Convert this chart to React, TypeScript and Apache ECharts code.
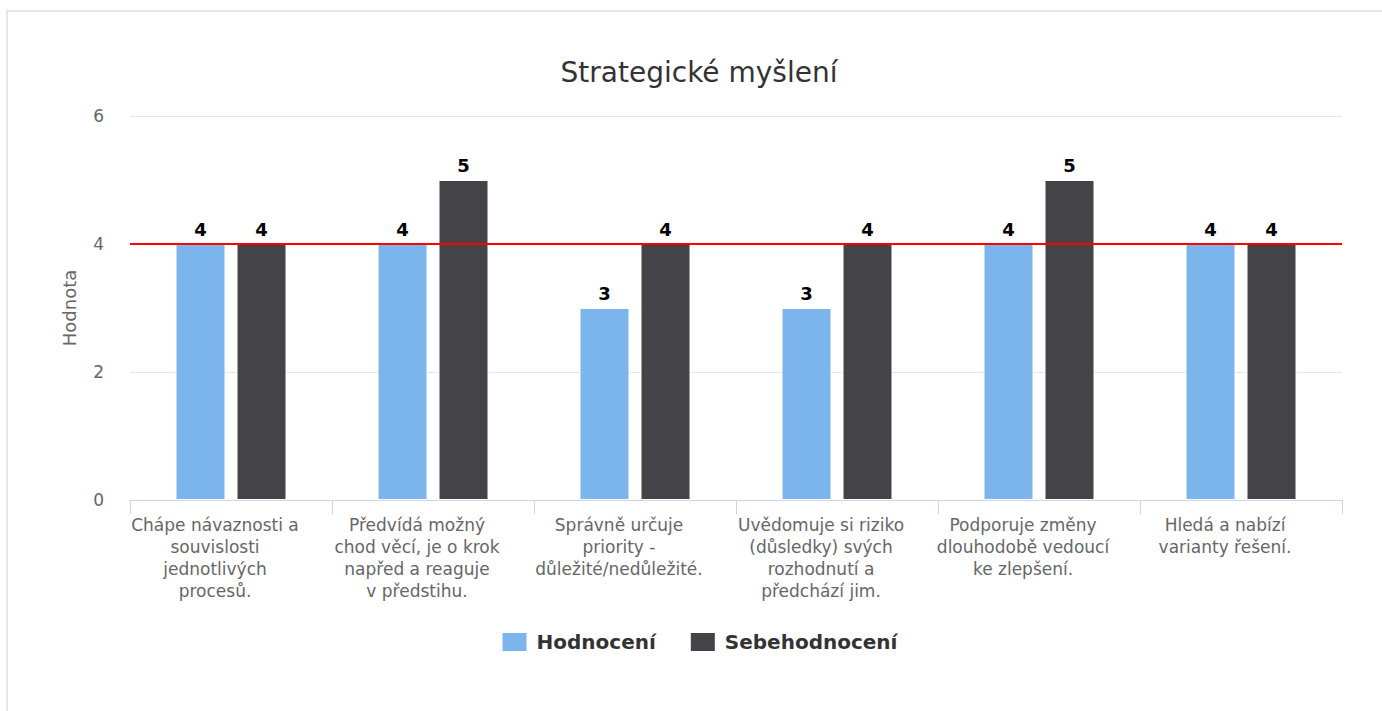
import React, { useEffect, useRef } from "react";
import * as echarts from "echarts";

const categories = [
  "Chápe návaznosti a\nsouvislosti\njednotlivých\nprocesů.",
  "Předvídá možný\nchod věcí, je o krok\nnapřed a reaguje\nv předstihu.",
  "Správně určuje\npriority -\ndůležité/nedůležité.",
  "Uvědomuje si riziko\n(důsledky) svých\nrozhodnutí a\npředchází jim.",
  "Podporuje změny\ndlouhodobě vedoucí\nke zlepšení.",
  "Hledá a nabízí\nvarianty řešení.",
];
const hodnoceni = [4, 4, 3, 3, 4, 4];
const sebehodnoceni = [4, 5, 4, 4, 5, 4];
const seriesNames = ["Hodnocení", "Sebehodnocení"];
const targetLine = 4;
const yMin = 0;
const yMax = 6;
const yInterval = 2;

const FONT = "'DejaVu Sans', Verdana, sans-serif";

export default function App() {
  const ref = useRef<HTMLDivElement>(null);
  useEffect(() => {
    if (!ref.current) return;
    const chart = echarts.init(ref.current, undefined, { renderer: "svg" });
    const labelStyle = {
      show: true,
      position: "top" as const,
      distance: 6,
      color: "#000",
      fontWeight: "bold" as const,
      fontSize: 18,
      fontFamily: FONT,
      textBorderColor: "#fff",
      textBorderWidth: 2,
    };
    chart.setOption({
      animation: false,
      textStyle: { fontFamily: FONT },
      title: {
        text: "Strategické myšlení",
        left: "center",
        top: 46,
        padding: 0,
        textStyle: { fontSize: 28, fontWeight: "normal", color: "#333", fontFamily: FONT },
      },
      grid: { left: 122, right: 48, top: 104, bottom: 212, containLabel: false },
      legend: {
        data: seriesNames,
        left: "center",
        top: 619,
        padding: 0,
        icon: "rect",
        itemWidth: 26,
        itemHeight: 20,
        itemGap: 33,
        textStyle: { fontSize: 20, fontWeight: "bold", color: "#333", fontFamily: FONT, padding: [0, 0, 0, 4] },
      },
      xAxis: {
        type: "category",
        data: categories,
        axisLine: { lineStyle: { color: "#ccd6eb", width: 1 } },
        axisTick: { show: true, length: 14, lineStyle: { color: "#ccd6eb" } },
        axisLabel: {
          color: "#666",
          fontSize: 17,
          lineHeight: 22,
          margin: 14,
          interval: 0,
          align: "center",
          padding: [0, 32, 0, 0],
          fontFamily: FONT,
        },
      },
      yAxis: {
        type: "value",
        min: yMin,
        max: yMax,
        interval: yInterval,
        name: "Hodnota",
        nameLocation: "middle",
        nameGap: 52,
        nameRotate: 90,
        nameTextStyle: { color: "#666", fontSize: 18, fontFamily: FONT },
        axisLine: { show: false },
        axisTick: { show: false },
        splitLine: { lineStyle: { color: "#e6e6e6", width: 1 } },
        axisLabel: { color: "#666", fontSize: 17, margin: 26, fontFamily: FONT },
      },
      series: [
        {
          name: seriesNames[0],
          type: "bar",
          data: hodnoceni,
          barWidth: 50,
          barGap: "22%",
          itemStyle: { color: "#7cb5ec", borderColor: "#fff", borderWidth: 1 },
          label: labelStyle,
          markLine: {
            silent: true,
            symbol: "none",
            label: { show: false },
            lineStyle: { color: "#ff0000", width: 2, type: "solid" },
            data: [{ yAxis: targetLine }],
          },
        },
        {
          name: seriesNames[1],
          type: "bar",
          data: sebehodnoceni,
          barWidth: 50,
          itemStyle: { color: "#434348", borderColor: "#fff", borderWidth: 1 },
          label: labelStyle,
        },
      ],
    });
    return () => chart.dispose();
  }, []);

  return (
    <div style={{ position: "absolute", left: 0, top: 0, width: 1382, height: 711, overflow: "hidden", background: "#fff" }}>
      <div
        style={{
          position: "absolute",
          left: 6,
          top: 10,
          width: 1382,
          height: 720,
          border: "2px solid #e6e6e6",
        }}
      >
        <div ref={ref} style={{ width: 1382, height: 700 }} />
      </div>
    </div>
  );
}
